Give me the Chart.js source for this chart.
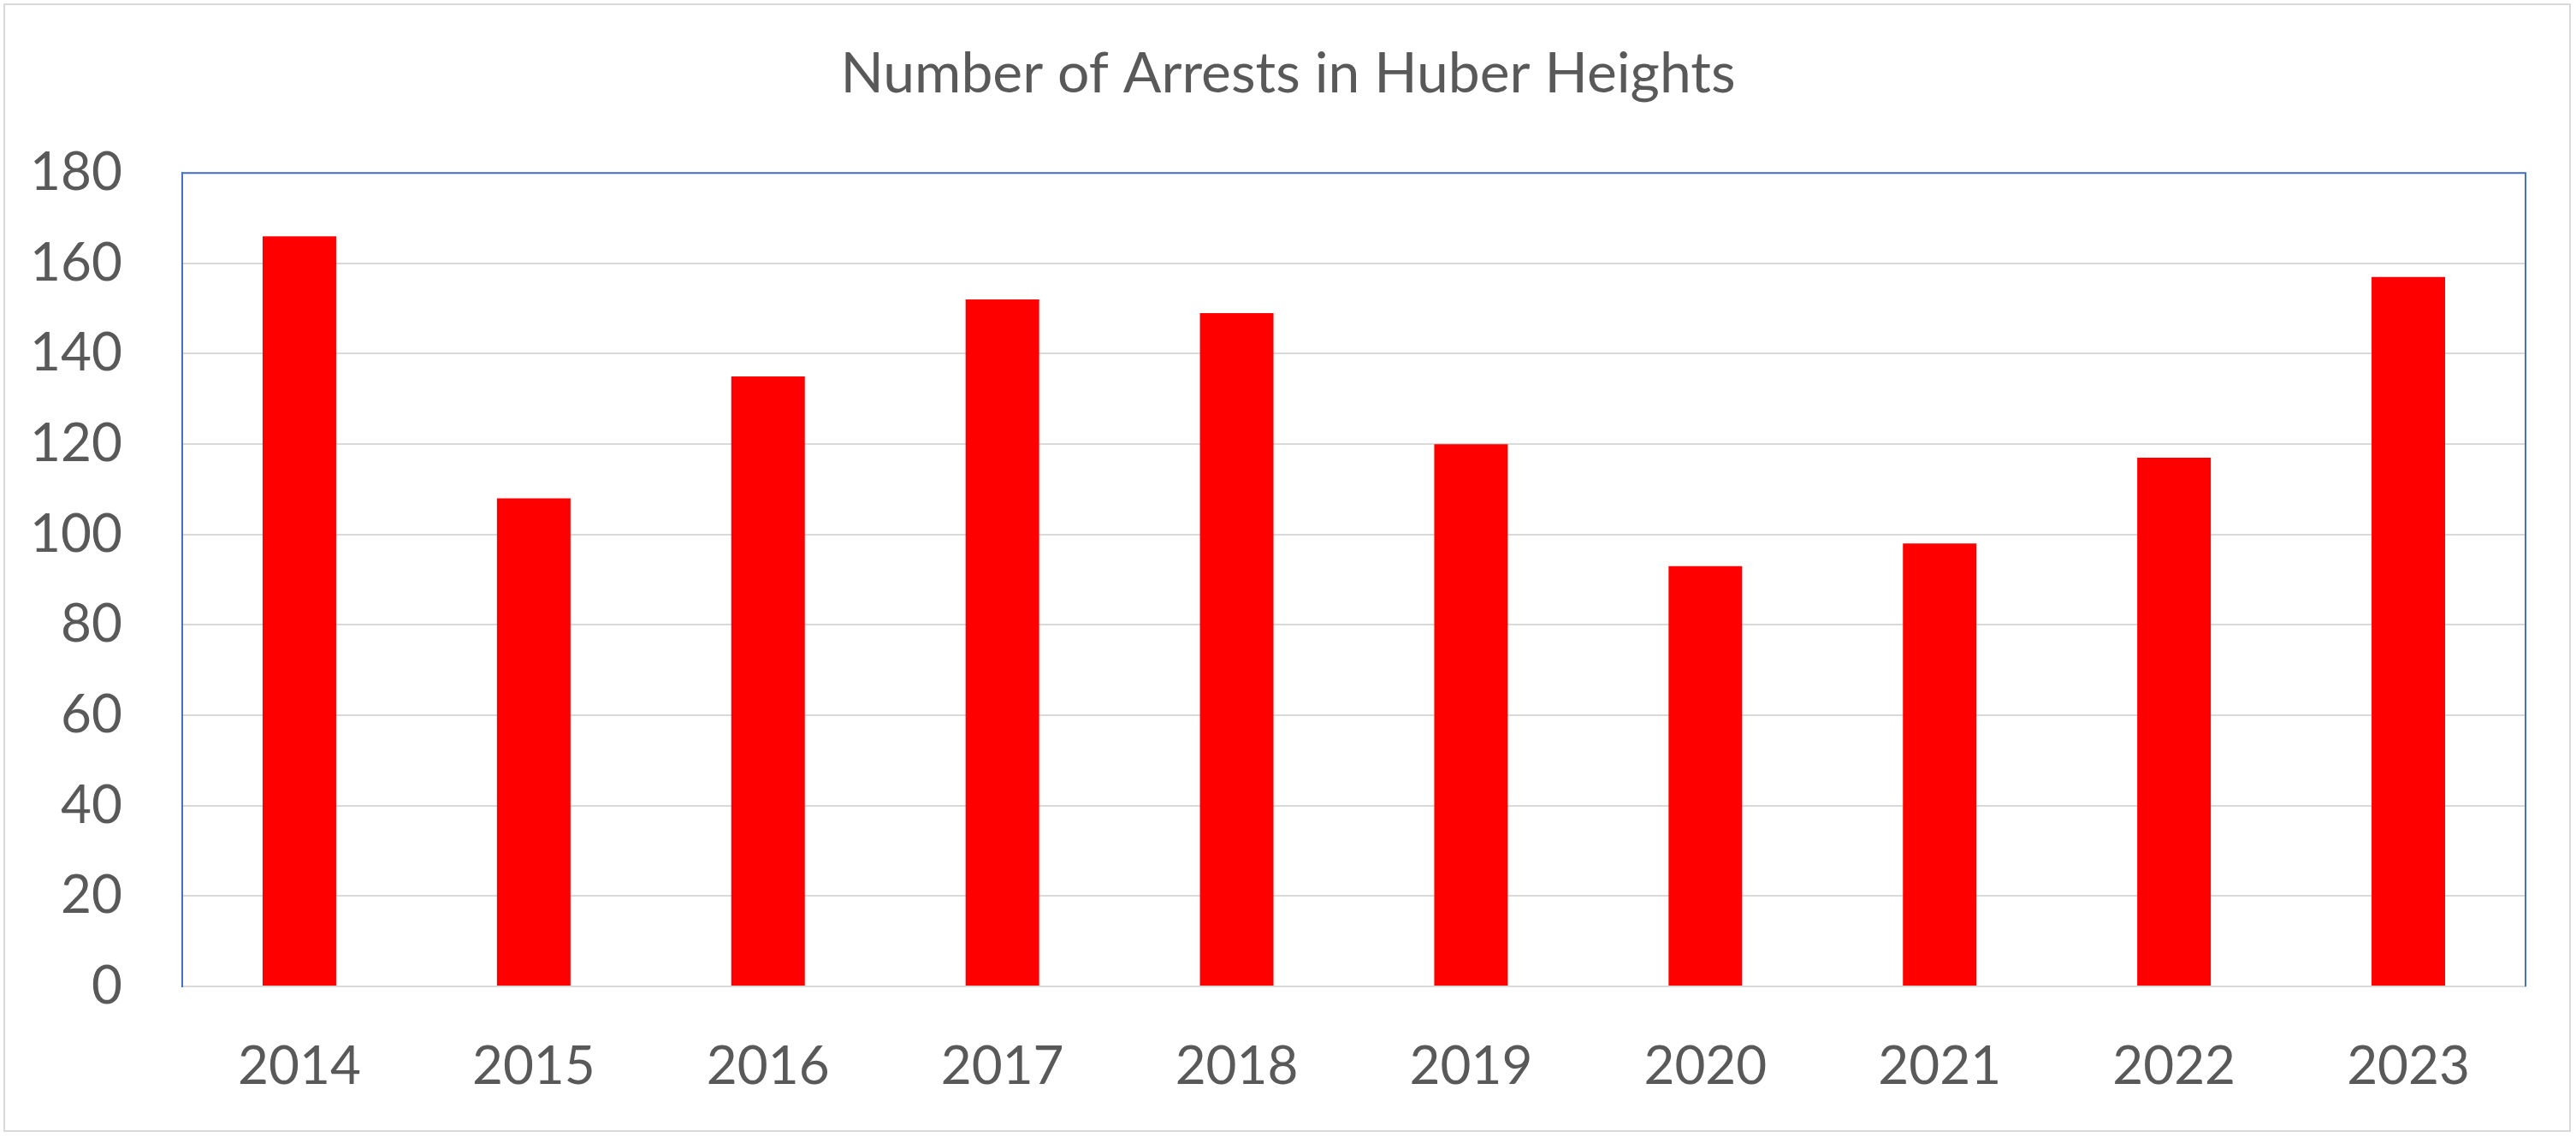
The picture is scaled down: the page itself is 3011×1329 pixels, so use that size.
<!DOCTYPE html>
<html>
<head>
<meta charset="utf-8">
<title>Number of Arrests in Huber Heights</title>
<script src="https://cdn.jsdelivr.net/npm/chart.js@4/dist/chart.umd.min.js"></script>
<style>
    html, body { margin: 0; padding: 0; background: #fff; }
    .chart-box { position: relative; width: 3011px; height: 1329px; }
    .chart-frame {
        position: absolute; left: 4px; top: 4px; width: 2997px; height: 1315px;
        border: 2px solid #d9d9d9; pointer-events: none;
    }
</style>
</head>
<body>
<div class="chart-box">
    <canvas id="arrestsChart"></canvas>
    <div class="chart-frame"></div>
</div>
<script>
const years = ['2014', '2015', '2016', '2017', '2018', '2019', '2020', '2021', '2022', '2023'];
const arrests = [166, 108, 135, 152, 149, 120, 93, 98, 117, 157];
const yTicks = [0, 20, 40, 60, 80, 100, 120, 140, 160, 180];

const textColor = '#595959';
const fontFamily = 'Lato, "Open Sans", sans-serif';

// blue frame on top, left and right of the plot area (Excel style)
const plotFrame = {
    id: 'plotFrame',
    afterLayout(chart) {
        // centre the title on the whole canvas, not on the padded box
        if (chart.titleBlock) {
            chart.titleBlock.left = 0;
            chart.titleBlock.right = chart.width;
            chart.titleBlock.width = chart.width;
        }
    },
    afterDatasetsDraw(chart) {
        const { ctx, chartArea: a } = chart;
        ctx.save();
        ctx.strokeStyle = '#4472c4';
        ctx.lineWidth = 2;
        ctx.beginPath();
        ctx.moveTo(a.left, a.bottom);
        ctx.lineTo(a.left, a.top);
        ctx.lineTo(a.right, a.top);
        ctx.lineTo(a.right, a.bottom);
        ctx.stroke();
        ctx.restore();
    }
};

new Chart(document.getElementById('arrestsChart'), {
    type: 'bar',
    data: {
        labels: years,
        datasets: [{
            label: 'Arrests',
            data: arrests,
            backgroundColor: '#ff0000',
            borderWidth: 0,
            barPercentage: 0.314,
            categoryPercentage: 1
        }]
    },
    options: {
        responsive: true,
        maintainAspectRatio: false,
        devicePixelRatio: 1,
        animation: false,
        layout: { padding: { left: 0, right: 59, top: 0, bottom: 0 } },
        plugins: {
            legend: { display: false },
            tooltip: { enabled: false },
            title: {
                display: true,
                text: 'Number of Arrests in Huber Heights',
                color: textColor,
                font: { family: fontFamily, size: 66, weight: 'normal', lineHeight: 1.2 },
                padding: { top: 47, bottom: 76 }
            }
        },
        scales: {
            x: {
                afterFit: scale => { scale.height = 176; },
                grid: { display: false, drawTicks: false },
                border: { display: true, color: '#d9d9d9', width: 2 },
                ticks: {
                    color: textColor,
                    padding: 57,
                    font: { family: fontFamily, size: 62, lineHeight: 1.2 },
                    maxRotation: 0
                }
            },
            y: {
                min: 0,
                max: 180,
                afterBuildTicks: scale => { scale.ticks = yTicks.map(v => ({ value: v })); },
                afterFit: scale => { scale.width = 213; },
                grid: { color: '#d9d9d9', lineWidth: 2, drawTicks: false },
                border: { display: true, color: '#4472c4', width: 2 },
                ticks: {
                    color: textColor,
                    padding: 70,
                    font: { family: fontFamily, size: 62, lineHeight: 1.2 }
                }
            }
        }
    },
    plugins: [plotFrame]
});
</script>
</body>
</html>
